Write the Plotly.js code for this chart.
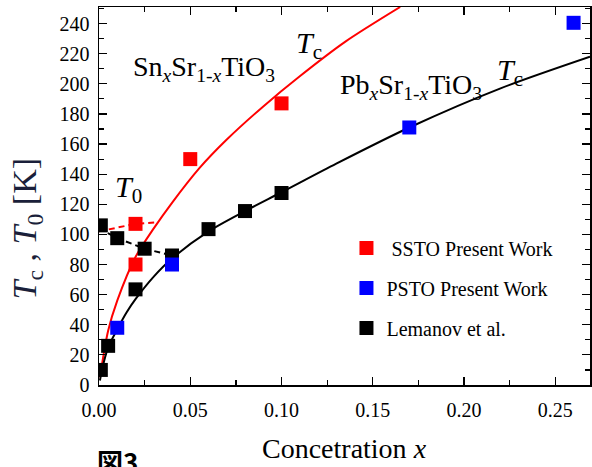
<!DOCTYPE html>
<html>
<head>
<meta charset="utf-8">
<script src="https://cdn.plot.ly/plotly-3.0.1.min.js"></script>
<style>html,body{margin:0;padding:0;background:#fff;}#plot{width:592px;height:467px;}</style>
</head>
<body>
<div id="plot"></div>
<script>
// ---- Data ----
// SSTO present work (red squares)
const sstoX = [0.02, 0.02, 0.05, 0.10];
const sstoY = [107, 80, 150, 187];
// PSTO present work (blue squares)
const pstoX = [0.01, 0.04, 0.17, 0.26];
const pstoY = [38, 80, 171, 240.5];
// Lemanov et al. Tc (black squares)
const lemTcX = [0.001, 0.005, 0.02, 0.06, 0.08, 0.10];
const lemTcY = [10, 26, 63.5, 103.5, 115.5, 127.5];
// Lemanov et al. T0 (black squares)
const lemT0X = [0.001, 0.01, 0.025, 0.04];
const lemT0Y = [106, 97.5, 90.5, 86];
// Red Tc curve (SnxSr1-xTiO3)
const redCurveX = [0.0005, 0.005, 0.01, 0.02, 0.03, 0.04, 0.055, 0.07, 0.09, 0.11, 0.135, 0.165];
const redCurveY = [5, 36, 56, 85, 104, 121, 144, 163, 185, 205, 228, 251];
// Black Tc curve (PbxSr1-xTiO3)
const blackCurveX = [0.0005, 0.002, 0.005, 0.01, 0.015, 0.02, 0.03, 0.04, 0.06, 0.08, 0.10, 0.13, 0.17, 0.22, 0.269];
const blackCurveY = [3, 12, 25, 37, 48, 57, 72, 84, 102, 115.5, 128, 147, 171, 197, 218];
// Red dashed T0 line
const redT0X = [0, 0.02, 0.031];
const redT0Y = [102, 107, 108];
// Black dashed T0 line
const blackT0X = [0, 0.01, 0.025, 0.04];
const blackT0Y = [104, 97.5, 90.5, 86];
// Tick labels
const xTicks = [0, 0.05, 0.10, 0.15, 0.20, 0.25];
const xTickText = ['0.00', '0.05', '0.10', '0.15', '0.20', '0.25'];
const yTicks = [0, 20, 40, 60, 80, 100, 120, 140, 160, 180, 200, 220, 240];

const serif = 'Liberation Serif, Times New Roman, serif';
const mk = (c) => ({symbol: 'square', size: 14, color: c, line: {width: 0}});

const traces = [
  {x: redCurveX, y: redCurveY, mode: 'lines', line: {color: '#ff0000', width: 2, shape: 'spline', smoothing: 0.8}, showlegend: false, hoverinfo: 'skip'},
  {x: blackCurveX, y: blackCurveY, mode: 'lines', line: {color: '#000000', width: 2, shape: 'spline', smoothing: 0.8}, showlegend: false, hoverinfo: 'skip'},
  {x: redT0X, y: redT0Y, mode: 'lines', line: {color: '#ff0000', width: 2, dash: '6px,4px'}, showlegend: false, hoverinfo: 'skip'},
  {x: blackT0X, y: blackT0Y, mode: 'lines', line: {color: '#000000', width: 2, dash: '6px,4px'}, showlegend: false, hoverinfo: 'skip'},
  {x: lemTcX, y: lemTcY, mode: 'markers', marker: mk('#000000'), name: 'Lemanov et al.', legendgroup: 'c', legendrank: 3},
  {x: lemT0X, y: lemT0Y, mode: 'markers', marker: mk('#000000'), name: 'Lemanov et al.', legendgroup: 'c', showlegend: false},
  {x: sstoX, y: sstoY, mode: 'markers', marker: mk('#ff0000'), name: '\u00a0SSTO Present Work', legendgroup: 'a', legendrank: 1},
  {x: pstoX, y: pstoY, mode: 'markers', marker: mk('#0000ff'), name: 'PSTO Present Work', legendgroup: 'b', legendrank: 2}
];

const axisCommon = {
  showgrid: false, zeroline: false, showline: true, linecolor: '#000', linewidth: 1.5,
  mirror: 'ticks', ticks: 'inside', ticklen: 8, tickwidth: 1.2, tickcolor: '#000',
  tickfont: {family: serif, size: 20, color: '#000'}
};

const layout = {
  width: 592, height: 467,
  margin: {l: 99, r: 2, t: 7, b: 82},
  paper_bgcolor: '#fff', plot_bgcolor: '#fff',
  xaxis: Object.assign({}, axisCommon, {
    range: [0, 0.269], tickvals: xTicks, ticktext: xTickText,
    minor: {dtick: 0.025, tick0: 0, ticks: 'inside', ticklen: 5, tickwidth: 1.2, tickcolor: '#000'},
    ticklabelstandoff: 6
  }),
  yaxis: Object.assign({}, axisCommon, {
    range: [0, 251], tickvals: yTicks,
    minor: {dtick: 10, tick0: 0, ticks: 'inside', ticklen: 5, tickwidth: 1.2, tickcolor: '#000'},
    ticklabelstandoff: 4
  }),
  legend: {
    x: 0.504, y: 0.414, xanchor: 'left', yanchor: 'top',
    bgcolor: 'rgba(0,0,0,0)', borderwidth: 0,
    font: {family: serif, size: 20, color: '#000'},
    tracegroupgap: 11, traceorder: 'grouped'
  },
  annotations: [
    {xref: 'paper', yref: 'paper', x: -0.146, y: 0.415, xanchor: 'center', yanchor: 'middle', textangle: -90,
     text: '<i>T</i><sub>c</sub> , <i>T</i><sub>0</sub> [K]', showarrow: false,
     font: {family: serif, size: 34, color: '#1a1f3a'}},
    {xref: 'paper', yref: 'paper', x: 0.5, y: -0.168, xanchor: 'center', yanchor: 'middle',
     text: 'Concetration <i>x</i>', showarrow: false, font: {family: serif, size: 28, color: '#000'}},
    {xref: 'paper', yref: 'paper', x: -0.008, y: -0.145, xanchor: 'left', yanchor: 'top',
     text: '<b>図3</b>', showarrow: false, font: {family: 'Noto Sans CJK JP', size: 26, color: '#000'}},
    {xref: 'x', yref: 'y', x: 0.0175, y: 210, xanchor: 'left', yanchor: 'middle',
     text: 'Sn<sub><i>x</i></sub>Sr<sub>1-<i>x</i></sub>TiO<sub>3</sub>', showarrow: false,
     font: {family: serif, size: 28, color: '#000'}},
    {xref: 'x', yref: 'y', x: 0.107, y: 226, xanchor: 'left', yanchor: 'middle',
     text: '<i>T</i><sub>c</sub>', showarrow: false, font: {family: serif, size: 30, color: '#000'}},
    {xref: 'x', yref: 'y', x: 0.131, y: 198, xanchor: 'left', yanchor: 'middle',
     text: 'Pb<sub><i>x</i></sub>Sr<sub>1-<i>x</i></sub>TiO<sub>3</sub>', showarrow: false,
     font: {family: serif, size: 28, color: '#000'}},
    {xref: 'x', yref: 'y', x: 0.217, y: 208, xanchor: 'left', yanchor: 'middle',
     text: '<i>T</i><sub>c</sub>', showarrow: false, font: {family: serif, size: 30, color: '#000'}},
    {xref: 'x', yref: 'y', x: 0.0075, y: 130, xanchor: 'left', yanchor: 'middle',
     text: '<i>T</i><sub>0</sub>', showarrow: false, font: {family: serif, size: 30, color: '#000'}}
  ]
};

Plotly.newPlot('plot', traces, layout, {displayModeBar: false, staticPlot: true});
</script>
</body>
</html>
